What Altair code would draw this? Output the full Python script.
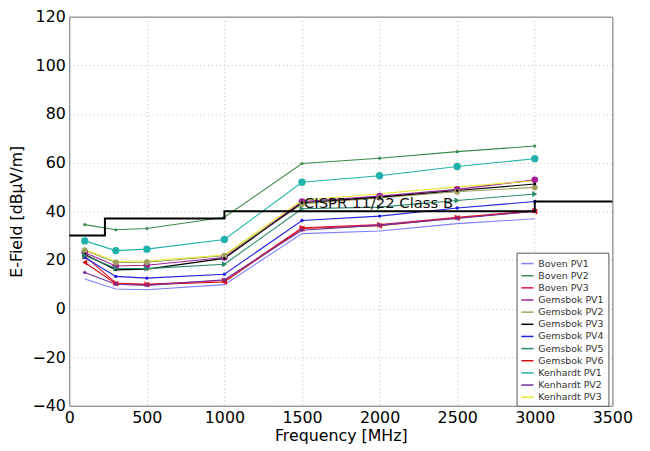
import altair as alt
import pandas as pd

freq = [100, 300, 500, 1000, 1500, 2000, 2500, 3000]

series = ["Boven PV1", "Boven PV2", "Boven PV3", "Gemsbok PV1", "Gemsbok PV2",
          "Gemsbok PV3", "Gemsbok PV4", "Gemsbok PV5", "Gemsbok PV6",
          "Kenhardt PV1", "Kenhardt PV2", "Kenhardt PV3"]

boven_pv1 = [12.1, 8.0, 7.7, 9.8, 30.8, 31.9, 34.9, 36.9]
boven_pv2 = [34.5, 32.4, 32.9, 37.5, 59.6, 61.8, 64.5, 66.8]
boven_pv3 = [21.5, 10.5, 10.0, 11.5, 33.2, 34.5, 37.5, 40.2]
gemsbok_pv1 = [23.0, 17.5, 17.8, 21.0, 44.0, 46.2, 49.0, 52.9]
gemsbok_pv2 = [24.0, 18.9, 19.0, 21.7, 43.0, 45.5, 48.0, 49.8]
gemsbok_pv3 = [22.3, 15.9, 16.2, 20.6, 43.5, 45.8, 48.5, 51.2]
gemsbok_pv4 = [21.0, 13.2, 12.5, 14.1, 36.2, 38.0, 41.3, 44.0]
gemsbok_pv5 = [21.8, 16.5, 16.4, 18.2, 41.0, 41.7, 44.4, 47.1]
gemsbok_pv6 = [18.9, 10.2, 9.8, 10.9, 32.9, 34.0, 37.2, 39.9]
kenhardt_pv1 = [27.8, 23.8, 24.4, 28.4, 51.9, 54.6, 58.4, 61.6]
kenhardt_pv2 = [14.8, 10.0, 9.5, 11.8, 32.2, 34.3, 37.0, 40.0]
kenhardt_pv3 = [24.3, 19.3, 19.5, 22.0, 44.5, 47.2, 50.0, 52.5]

values = [boven_pv1, boven_pv2, boven_pv3, gemsbok_pv1, gemsbok_pv2, gemsbok_pv3,
          gemsbok_pv4, gemsbok_pv5, gemsbok_pv6, kenhardt_pv1, kenhardt_pv2, kenhardt_pv3]

colors = ["#7f7fff", "#3a8a4a", "#dc143c", "#a0209a", "#a0a060", "#000000",
          "#2020e0", "#2a8a6a", "#d01010", "#20b2aa", "#7030a0", "#e8e830"]
shapes = ["circle", "circle", "triangle-right", "circle", "circle", "circle",
          "circle", "triangle-right", "triangle-left", "circle", "diamond", "circle"]
sizes = [0, 10, 35, 45, 35, 8, 12, 35, 35, 55, 18, 0]

limit_freq = [0, 230, 230, 1000, 1000, 3000, 3000, 3500]
limit_level = [30, 30, 37, 37, 40, 40, 44, 44]

rows = []
for name, vals in zip(series, values):
    for f, v in zip(freq, vals):
        rows.append({"series": name, "freq": f, "level": v})
df = pd.DataFrame(rows)

lim = pd.DataFrame({"freq": limit_freq, "level": limit_level, "order": list(range(len(limit_freq)))})
ann = pd.DataFrame({"freq": [1500], "level": [43.5], "text": ["CISPR 11/22 Class B"]})

xscale = alt.Scale(domain=[0, 3500], nice=False, zero=False)
yscale = alt.Scale(domain=[-40, 120], nice=False, zero=False)
xaxis = alt.Axis(values=[0, 500, 1000, 1500, 2000, 2500, 3000, 3500], title="Frequency [MHz]",
                 format="d", labelFlush=False)
yaxis = alt.Axis(values=list(range(-40, 121, 20)), title="E-Field [dBμV/m]", format="d",
                 labelFlush=False)

color = alt.Color("series:N", scale=alt.Scale(domain=series, range=colors),
                  legend=alt.Legend(title=None, orient="none", legendX=453, legendY=239,
                                    symbolType="stroke", symbolSize=150, symbolStrokeWidth=1.5,
                                    labelFontSize=9.5, labelColor="#333", rowPadding=0.3,
                                    strokeColor="#555", fillColor="white", padding=4,
                                    labelFont="DejaVu Sans"))

lines = alt.Chart(df).mark_line(strokeWidth=1.1).encode(
    x=alt.X("freq:Q", scale=xscale, axis=xaxis),
    y=alt.Y("level:Q", scale=yscale, axis=yaxis),
    color=color,
    detail="series:N",
)

layers = [lines]
for name, c, sh, sz in zip(series, colors, shapes, sizes):
    if sz <= 0:
        continue
    layers.append(
        alt.Chart(df).transform_filter(alt.datum.series == name)
        .mark_point(filled=True, opacity=1, shape=sh, size=sz, color=c)
        .encode(x="freq:Q", y="level:Q")
    )

limit = alt.Chart(lim).mark_line(color="black", strokeWidth=2).encode(
    x="freq:Q", y="level:Q", order="order:Q"
)

text = alt.Chart(ann).mark_text(align="left", baseline="middle", fontSize=15,
                                font="DejaVu Sans", color="#111", dx=2).encode(
    x="freq:Q", y="level:Q", text="text:N"
)

layers += [limit, text]

chart = alt.layer(*layers).properties(
    width=550, height=394,
    autosize=alt.AutoSizeParams(type="none"),
    padding={"left": 62, "top": 6, "right": 30, "bottom": 42},
).configure_view(stroke="#666", strokeWidth=1).configure_axis(
    grid=True, gridColor="#bbbbbb", gridDash=[1, 3], gridWidth=1,
    domain=False, ticks=False, labelFontSize=16, labelColor="black",
    labelFont="DejaVu Sans", titleFont="DejaVu Sans", titleFontSize=16,
    titleFontWeight="normal", titleColor="black", labelPadding=4,
).configure_axisX(titlePadding=2).configure_axisY(titlePadding=8)

chart.save("out.html", embed_options={"renderer": "svg", "actions": False})
